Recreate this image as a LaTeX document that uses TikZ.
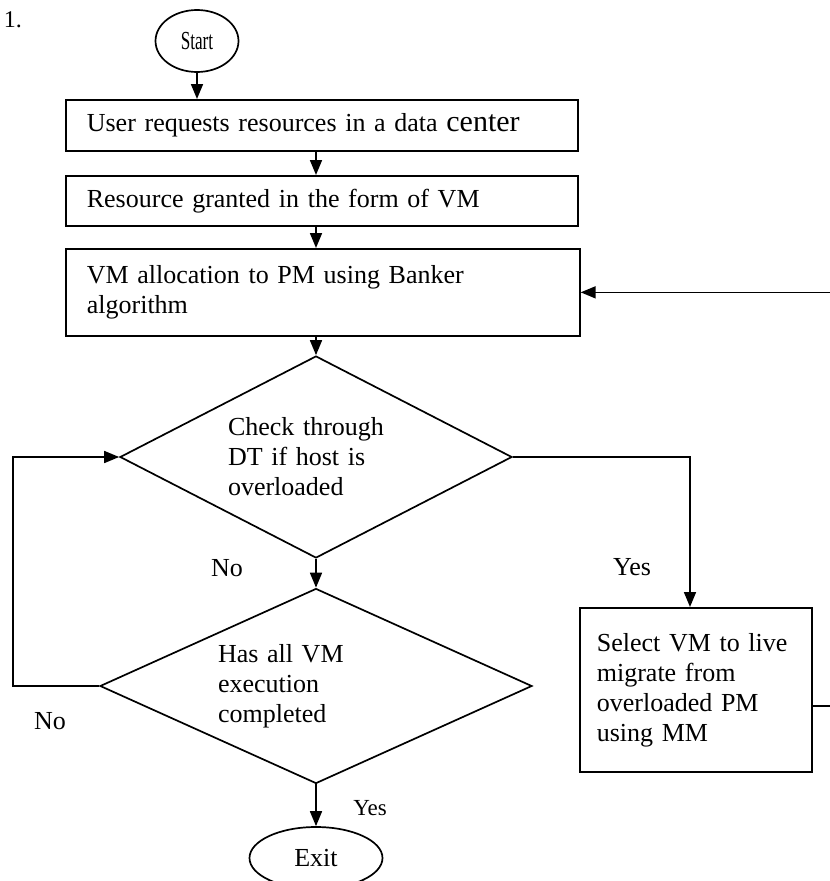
\documentclass[tikz,border=0pt]{standalone}
\usepackage{fontspec}
\usepackage{graphicx}
\setmainfont{Liberation Serif}
\usetikzlibrary{shapes.geometric,arrows.meta}
\begin{document}
\begin{tikzpicture}[x=1pt,y=-1pt,line width=1.7pt,
  txt/.style={font=\fontsize{26}{30}\selectfont},
  procbox/.style={draw,rectangle,txt,align=left,anchor=north west,inner xsep=21pt,inner ysep=0pt,text width=470pt,minimum width=512pt},
  decide/.style={draw,diamond,txt,align=left,inner sep=0pt},
  term/.style={draw,ellipse,txt,inner sep=0pt},
  lbl/.style={txt,inner sep=0pt},
  arr/.style={-{Triangle[length=15pt,width=12pt]}}]
\clip (0,0) rectangle (830,881);

\node[lbl,anchor=west] (fig) at (3,20) {\fontsize{24}{24}\selectfont 1.};

\node[term,minimum width=83pt,minimum height=62pt] (start) at (197,41) {\scalebox{0.66}[1]{Start}};

\node[procbox,minimum height=51pt] (box1) at (65,99) {User requests resources in a data {\fontsize{30}{30}\selectfont center}};
\node[procbox,minimum height=50pt] (box2) at (65,175) {Resource granted in the form of VM};
\node[procbox,minimum height=87pt,text width=472pt,minimum width=514pt] (box3) at (65,248) {VM allocation to PM using Banker\\algorithm};

\node[decide,minimum width=392pt,minimum height=202pt,aspect=1.92,text width=176pt] (d1) at (316,457) {Check through\\DT if host is\\overloaded};
\node[decide,minimum width=432pt,minimum height=195pt,aspect=2.2,text width=196pt] (d2) at (316,686) {Has all VM\\execution\\completed};

\node[procbox,minimum height=164pt,inner xsep=17pt,text width=198pt,minimum width=232pt] (box4) at (579,607) {Select VM to live\\migrate from\\overloaded PM\\using MM};

\node[term,minimum width=133pt,minimum height=62pt] (exit) at (316,858) {Exit};

\node[lbl] (no1) at (227,568) {No};
\node[lbl] (no2) at (50,721) {No};
\node[lbl] (yes1) at (632,567) {Yes};
\node[lbl,font=\fontsize{23}{23}\selectfont] (yes2) at (370,808) {Yes};

\coordinate (ax) at (316,0);
\coordinate (yx) at (690,0);
\coordinate (lx) at (13,0);
\coordinate (r1) at (850,706);

\draw[arr] (start.south) -- (start.south |- box1.north);
\draw[arr] (box1.south -| ax) -- (box2.north -| ax);
\draw[arr] (box2.south -| ax) -- (box3.north -| ax);
\draw[arr] (box3.south -| ax) -- (d1.north);
\draw[arr] (d1.south) -- (d2.north);
\draw[arr] (d2.south) -- (exit.north);
\draw[arr] (d1.east) -| (box4.north -| yx);
\draw[arr] (box4.east |- r1) -- (r1) |- (box3.east);
\draw[arr] (d2.west) -- (d2.west -| lx) |- (d1.west);
\end{tikzpicture}
\end{document}
